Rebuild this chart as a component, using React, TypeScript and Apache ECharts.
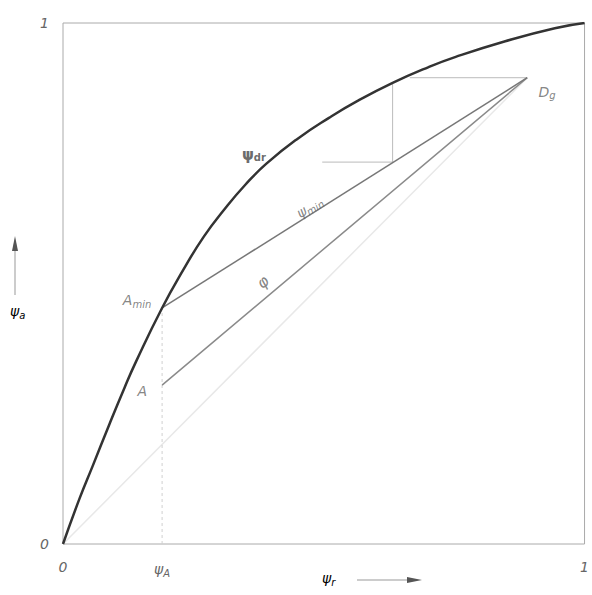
import React, { useEffect, useRef } from "react";
import * as echarts from "echarts";

// ψ_dr equilibrium curve
const curveX = [0, 0.032, 0.057, 0.089, 0.118, 0.14, 0.19, 0.23, 0.27, 0.31, 0.35, 0.39, 0.45, 0.51, 0.564, 0.632, 0.7, 0.753, 0.848, 0.943, 1];
const curveY = [0, 0.088, 0.15, 0.23, 0.3, 0.35, 0.453, 0.525, 0.59, 0.643, 0.69, 0.73, 0.778, 0.818, 0.85, 0.885, 0.915, 0.935, 0.965, 0.99, 1];

// key points
const psiA = 0.19;
const pointA = [0.19, 0.305];
const pointAmin = [0.19, 0.453];
const pointDg = [0.89, 0.895];

// construction (step) lines
const stepTop = [[0.665, 0.895], [0.89, 0.895]];
const stepVert = [[0.632, 0.885], [0.632, 0.733]];
const stepLow = [[0.632, 0.733], [0.497, 0.733]];

// x-axis / y-axis label values
const xTickValues = [0, psiA, 1];
const yTickValues = [0, 1];

// annotation labels: [x, y, text, rotate]
const annotations: [number, number, string, number][] = [
  [0.366, 0.747, "{b|ψ}{bs|dr}", 0],
  [0.4725, 0.647, "{i|ψ}{s|min}", 32],
  [0.383, 0.503, "{p|φ}", 40],
  [0.142, 0.468, "{i|A}{s|min}", 0],
  [0.152, 0.294, "{i|A}", 0],
  [0.928, 0.868, "{i|D}{s|g}", 0],
];

const FONT = "DejaVu Sans";
const TXT = "#666";
const rich = {
  i: { fontFamily: FONT, fontStyle: "italic", fontSize: 14, color: TXT },
  p: { fontFamily: FONT, fontStyle: "italic", fontSize: 16, color: TXT },
  s: { fontFamily: FONT, fontStyle: "italic", fontSize: 10, color: TXT, padding: [8, 0, 0, 0] },
  b: { fontFamily: FONT, fontWeight: "bold", fontSize: 15, color: "#444" },
  bs: { fontFamily: FONT, fontWeight: "bold", fontSize: 10, color: "#444", padding: [6, 0, 0, 0] },
};

export default function App() {
  const ref = useRef<HTMLDivElement>(null);
  useEffect(() => {
    if (!ref.current) return;
    const chart = echarts.init(ref.current, null, { renderer: "svg" });
    const lineSeries = (data: number[][], color: string, width: number, type: any = "solid", z = 2) => ({
      type: "line",
      data,
      symbol: "none",
      silent: true,
      lineStyle: { color, width, type },
      z,
    });
    chart.setOption({
      animation: false,
      backgroundColor: "#fff",
      grid: { left: 63, right: 2, top: 23, bottom: 51, show: true, borderColor: "#aaa", borderWidth: 1 },
      xAxis: {
        type: "value",
        min: 0,
        max: 1,
        axisLine: { show: false },
        axisTick: { show: false },
        splitLine: { show: false },
        axisLabel: {
          customValues: xTickValues,
          margin: 16,
          formatter: (v: number) => (v === 0 ? "{i|0}" : v === 1 ? "{i|1}" : "{i|ψ}{s|A}"),
          rich,
        },
      },
      yAxis: {
        type: "value",
        min: 0,
        max: 1,
        axisLine: { show: false },
        axisTick: { show: false },
        splitLine: { show: false },
        axisLabel: {
          customValues: yTickValues,
          margin: 14,
          formatter: (v: number) => (v === 0 ? "{i|0}" : "{i|1}"),
          rich,
        },
      },
      series: [
        lineSeries([[0, 0], pointDg], "#e8e8e8", 1.5),
        lineSeries([[psiA, 0], pointAmin], "#d0d0d0", 1, [3, 3]),
        lineSeries(stepTop, "#bbb", 1),
        lineSeries(stepVert, "#bbb", 1),
        lineSeries(stepLow, "#bbb", 1),
        lineSeries([pointA, pointDg], "#8a8a8a", 1.5),
        lineSeries([pointAmin, pointDg], "#777", 1.5),
        {
          type: "line",
          data: curveX.map((x, i) => [x, curveY[i]]),
          symbol: "none",
          smooth: 0.5,
          silent: true,
          lineStyle: { color: "#333", width: 2.5 },
          z: 3,
        },
        {
          type: "scatter",
          symbolSize: 0,
          silent: true,
          z: 4,
          data: annotations.map((a) => ({
            value: [a[0], a[1]],
            label: {
              show: true,
              position: "inside",
              rotate: a[3],
              formatter: a[2],
              rich,
            },
          })),
        },
      ],
      graphic: [
        {
          type: "text",
          left: 10,
          top: 304,
          style: { text: "{i|ψ}{s|a}", rich },
        },
        { type: "line", shape: { x1: 15, y1: 295, x2: 15, y2: 248 }, style: { stroke: "#999", lineWidth: 1 } },
        { type: "polygon", shape: { points: [[15, 236], [12, 251], [18, 251]] }, style: { fill: "#555" } },
        {
          type: "text",
          left: 322,
          top: 571,
          style: { text: "{i|ψ}{s|r}", rich },
        },
        { type: "line", shape: { x1: 357, y1: 580, x2: 410, y2: 580 }, style: { stroke: "#999", lineWidth: 1 } },
        { type: "polygon", shape: { points: [[422, 580], [407, 577], [407, 583]] }, style: { fill: "#555" } },
      ],
    });
    return () => chart.dispose();
  }, []);
  return <div ref={ref} style={{ position: "absolute", left: 0, top: 0, width: 592, height: 595 }} />;
}
